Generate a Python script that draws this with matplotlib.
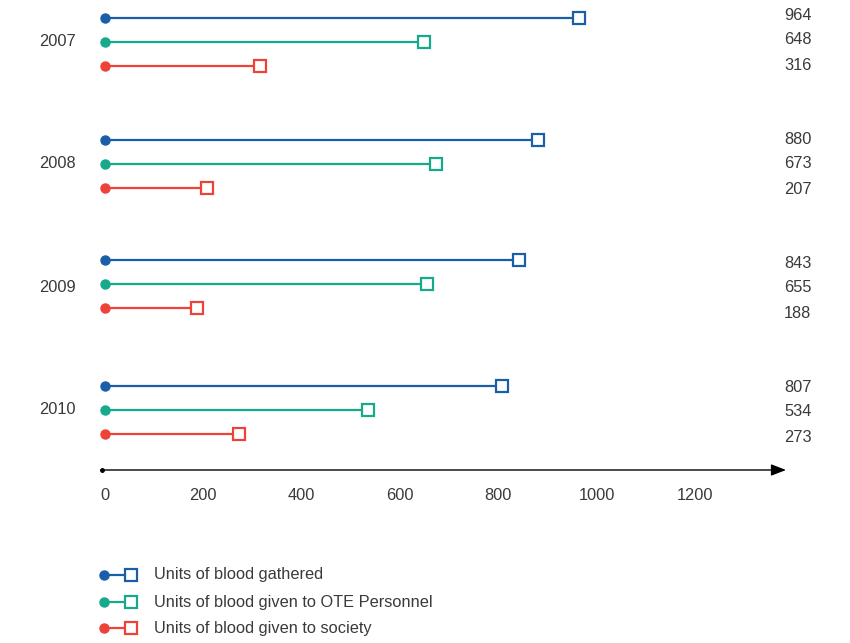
import matplotlib
matplotlib.use("Agg")
import matplotlib.pyplot as plt

years = ["2007", "2008", "2009", "2010"]
series_names = [
    "Units of blood gathered",
    "Units of blood given to OTE Personnel",
    "Units of blood given to society",
]
gathered = [964, 880, 843, 807]
given_ote = [648, 673, 655, 534]
given_society = [316, 207, 188, 273]
x_ticks = [0, 200, 400, 600, 800, 1000, 1200]

colors = ["#1a5ea8", "#17a98c", "#ee4238"]
text_color = "#3a3a3a"
fs = 11.8

plt.rcParams["font.family"] = ["Liberation Sans", "DejaVu Sans"]

W, H = 850, 643
fig = plt.figure(figsize=(W / 100, H / 100), dpi=100)
ax = fig.add_axes([0, 0, 1, 1])

# data x -> figure pixel mapping: value 0 at 105 px, 0.4917 px per unit
x0_px = 105.0
px_per_unit = (696.0 - 106.0) / 1200.0
ax.set_xlim((0 - x0_px) / px_per_unit, (W - x0_px) / px_per_unit)
ax.set_ylim(H, 0)  # y in pixel rows from the top
ax.axis("off")

def px_to_x(px):
    return (px - x0_px) / px_per_unit

group_centers = [42, 164, 284, 410]
year_label_y = [42, 163, 287, 410]
value_label_centers = [40, 164, 288, 412]
row_offsets = [-24, 0, 24]
label_offsets = [-25, 0, 25]
all_series = [gathered, given_ote, given_society]

for gi, year in enumerate(years):
    yc = group_centers[gi]
    ax.text(px_to_x(76), year_label_y[gi], year, ha="right", va="center",
            fontsize=fs, color=text_color)
    for si, vals in enumerate(all_series):
        y = yc + row_offsets[si]
        v = vals[gi]
        c = colors[si]
        ax.plot([0, v], [y, y], color=c, lw=1.6, solid_capstyle="butt", zorder=2)
        ax.plot([0], [y], marker="o", ms=6.5, color=c, mec=c, zorder=3)
        ax.plot([v], [y], marker="s", ms=8, mfc="white", mec=c, mew=1.6, zorder=3)
        ax.text(px_to_x(784), value_label_centers[gi] + label_offsets[si], str(v),
                ha="left", va="center", fontsize=fs, color=text_color)

# horizontal axis with arrow
axis_y = 470
ax.annotate("", xy=(px_to_x(786), axis_y), xytext=(px_to_x(101), axis_y),
            arrowprops=dict(arrowstyle="-|>,head_length=0.9,head_width=0.35",
                            color="black", lw=1.0, shrinkA=0, shrinkB=0))
ax.plot([px_to_x(102)], [axis_y], marker="o", ms=2.5, color="black")
for t in x_ticks:
    ax.text(t, 495, str(t), ha="center", va="center", fontsize=fs, color=text_color)

# legend
legend_rows = [575, 602, 628]
for si, name in enumerate(series_names):
    y = legend_rows[si]
    c = colors[si]
    ax.plot([px_to_x(104), px_to_x(131)], [y, y], color=c, lw=1.6)
    ax.plot([px_to_x(104)], [y], marker="o", ms=6.5, color=c)
    ax.plot([px_to_x(131)], [y], marker="s", ms=8, mfc="white", mec=c, mew=1.6)
    ax.text(px_to_x(154), y, name, ha="left", va="center",
            fontsize=fs, color=text_color)

fig.savefig("out.png", dpi=100, facecolor="white")
